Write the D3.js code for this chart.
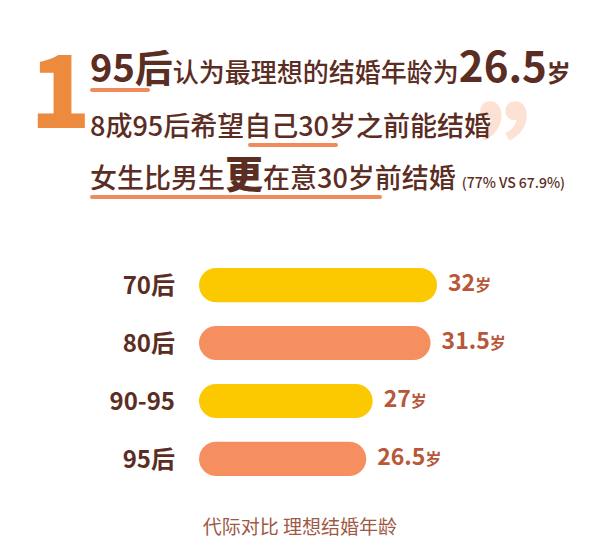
<!DOCTYPE html>
<html><head><meta charset="utf-8">
<script src="https://cdn.jsdelivr.net/npm/d3@7"></script>
<style>
body{margin:0;background:#fff;}
text{font-family:"Noto Sans CJK SC","Noto Sans",sans-serif;}
</style></head>
<body><svg id="c" width="616" height="559"></svg>
<script>
const categories = ['70后', '80后', '90-95', '95后']
const ages = [32, 31.5, 27, 26.5]
const valueLabels = ['32', '31.5', '27', '26.5']
const barColors = ['#fcc800', '#f58f5f', '#fcc800', '#f58f5f']

const svg = d3.select('#c')
const brown = '#5b2d23'
const orange = '#ec8a3e'

// header block
svg.append('text').attr('x', 30).attr('y', 128).attr('font-size', 100)
  .attr('font-weight', 900).attr('fill', orange).text('1')
svg.append('text').attr('x', 478).attr('y', 205).attr('font-size', 120)
  .attr('font-weight', 900).attr('fill', '#fde2d3').text('”')

const l1 = svg.append('text').attr('x', 90).attr('y', 82).attr('fill', brown).attr('font-weight', 700)
l1.append('tspan').attr('font-size', 38).text('95后')
l1.append('tspan').attr('font-size', 26).attr('font-weight', 500).text('认为最理想的结婚年龄为')
l1.append('tspan').attr('font-size', 42).text('26.5')
l1.append('tspan').attr('font-size', 24).text('岁')

svg.append('text').attr('x', 90).attr('y', 136).attr('fill', brown)
  .attr('font-size', 27).attr('font-weight', 500)
  .text('8成95后希望自己30岁之前能结婚')

const l3 = svg.append('text').attr('x', 90).attr('y', 188).attr('fill', brown).attr('font-weight', 500)
l3.append('tspan').attr('font-size', 27).text('女生比男生')
l3.append('tspan').attr('font-size', 38).attr('font-weight', 900).text('更')
l3.append('tspan').attr('font-size', 27).text('在意30岁前结婚')
l3.append('tspan').attr('font-size', 14).attr('dx', 6).text('(77% VS 67.9%)')

const ul = [[92, 148, 90], [250, 336, 145], [92, 380, 197]]
svg.selectAll('line.ul').data(ul).join('line')
  .attr('x1', d => d[0]).attr('x2', d => d[1]).attr('y1', d => d[2]).attr('y2', d => d[2])
  .attr('stroke', '#f08c5c').attr('stroke-width', 4).attr('stroke-linecap', 'round')

// bars
const x = d3.scaleLinear().domain([13.5, 32]).range([0, 238])
const y = d3.scaleBand().domain(categories).range([268, 476]).paddingInner(0.41).paddingOuter(0)
const g = svg.append('g').attr('transform', 'translate(199,0)')

g.selectAll('rect').data(ages).join('rect')
  .attr('x', 0).attr('y', (d, i) => y(categories[i]))
  .attr('width', d => x(d)).attr('height', y.bandwidth())
  .attr('rx', y.bandwidth() / 2).attr('fill', (d, i) => barColors[i])

g.selectAll('text.cat').data(categories).join('text')
  .attr('x', -24).attr('y', d => y(d) + y.bandwidth() / 2).attr('dy', '0.36em')
  .attr('text-anchor', 'end').attr('font-size', 24).attr('font-weight', 700)
  .attr('fill', brown).text(d => d)

const vt = g.selectAll('text.val').data(ages).join('text')
  .attr('x', d => x(d) + 11).attr('y', (d, i) => y(categories[i]) + y.bandwidth() / 2).attr('dy', '0.36em')
  .attr('fill', '#b8573a').attr('font-weight', 700)
vt.append('tspan').attr('font-size', 23).text((d, i) => valueLabels[i])
vt.append('tspan').attr('font-size', 16).text('岁')

svg.append('text').attr('x', 300).attr('y', 534).attr('text-anchor', 'middle')
  .attr('font-size', 19).attr('fill', '#9e5a45').text('代际对比  理想结婚年龄')
</script></body></html>
